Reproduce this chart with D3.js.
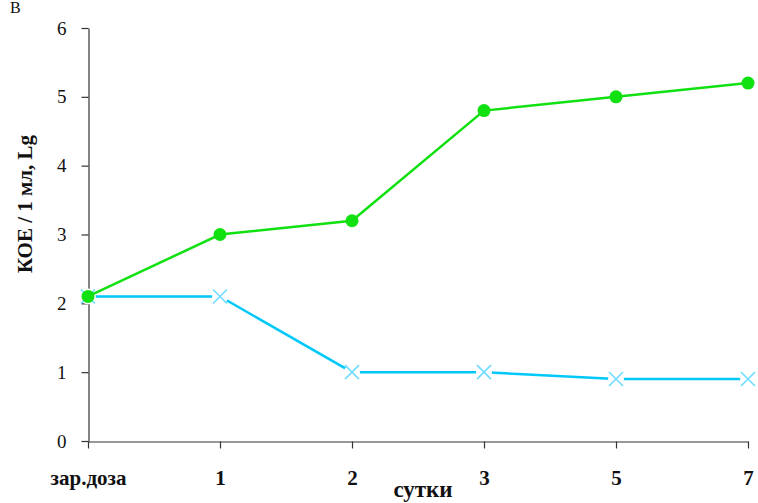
<!DOCTYPE html>
<html>
<head>
<meta charset="utf-8">
<script src="https://cdn.jsdelivr.net/npm/d3@7"></script>
<style>
  html, body { margin: 0; padding: 0; background: #fff; }
  svg { display: block; }
  svg text { font-family: "Liberation Serif", "Times New Roman", "DejaVu Serif", serif; fill: #111; }
</style>
</head>
<body>
<svg id="chart" width="758" height="503"></svg>
<script>
// Days of observation (first point is the inoculation dose)
const categories = ["зар.доза", "1", "2", "3", "5", "7"];
// CFU / 1 ml, log10
const greenSeries = [2.1, 3.0, 3.2, 4.8, 5.0, 5.2];
const cyanSeries  = [2.1, 2.1, 1.0, 1.0, 0.9, 0.9];
const yTicks = [0, 1, 2, 3, 4, 5, 6];

const serif = '"Liberation Serif", "Times New Roman", serif';
const svg = d3.select("#chart");
const plot = { left: 88, right: 748, top: 28, bottom: 441 };

const x = d3.scalePoint().domain(categories).range([plot.left, plot.right]);
const y = d3.scaleLinear().domain([0, 6]).range([plot.bottom, plot.top]);

// Y axis
const yAxis = svg.append("g")
  .attr("transform", `translate(${plot.left + 0.5},0)`)
  .call(d3.axisLeft(y).tickValues(yTicks).tickFormat(d3.format("d"))
    .tickSize(7).tickSizeOuter(0).tickPadding(15));
yAxis.attr("font-family", null).attr("font-size", null);
yAxis.select(".domain").attr("stroke", "#333").attr("stroke-width", 1.2);
yAxis.selectAll(".tick line").attr("stroke", "#333").attr("stroke-width", 1.2);
yAxis.selectAll(".tick text").style("font-size", "19px").style("font-family", serif).attr("fill", "#111");

// X axis
const xAxis = svg.append("g")
  .attr("transform", `translate(0,${plot.bottom + 0.5})`)
  .call(d3.axisBottom(x).tickSize(7).tickSizeOuter(0).tickPadding(22));
xAxis.attr("font-family", null).attr("font-size", null);
xAxis.select(".domain").attr("stroke", "#333").attr("stroke-width", 1.2);
xAxis.selectAll(".tick line").attr("stroke", "#333").attr("stroke-width", 1.2);
xAxis.selectAll(".tick text").style("font-size", "21px").style("font-weight", "bold")
  .style("font-family", serif).attr("fill", "#111");

// Lines
const line = d3.line().x((d, i) => x(categories[i])).y(d => y(d));

svg.append("path").datum(cyanSeries)
  .attr("fill", "none").attr("stroke", "#00c8f8").attr("stroke-width", 2.5)
  .attr("d", line);

// Cross markers with a white halo around them
const crosses = svg.append("g").selectAll("g").data(cyanSeries).join("g")
  .attr("transform", (d, i) => `translate(${x(categories[i])},${y(d)})`);
crosses.append("circle").attr("r", 8).attr("fill", "#fff");
crosses.append("path").attr("d", "M-7,-7L7,7M-7,7L7,-7")
  .attr("stroke", "#70dcff").attr("stroke-width", 1.6).attr("fill", "none");

svg.append("path").datum(greenSeries)
  .attr("fill", "none").attr("stroke", "#11e011").attr("stroke-width", 2.5)
  .attr("d", line);

svg.append("g").selectAll("circle").data(greenSeries).join("circle")
  .attr("cx", (d, i) => x(categories[i])).attr("cy", d => y(d))
  .attr("r", 6.5).attr("fill", "#11e011");

// Titles
svg.append("text").attr("x", 10).attr("y", 13).style("font-size", "16px").style("font-family", serif).text("В");

svg.append("text")
  .attr("transform", "translate(32,204) rotate(-90)")
  .attr("text-anchor", "middle").style("font-size", "21px").style("font-weight", "bold")
  .style("font-family", serif)
  .text("КОЕ / 1 мл, Lg");

svg.append("text").attr("x", 423).attr("y", 497)
  .attr("text-anchor", "middle").style("font-size", "23px").style("font-weight", "bold")
  .style("font-family", serif)
  .text("сутки");
</script>
</body>
</html>
